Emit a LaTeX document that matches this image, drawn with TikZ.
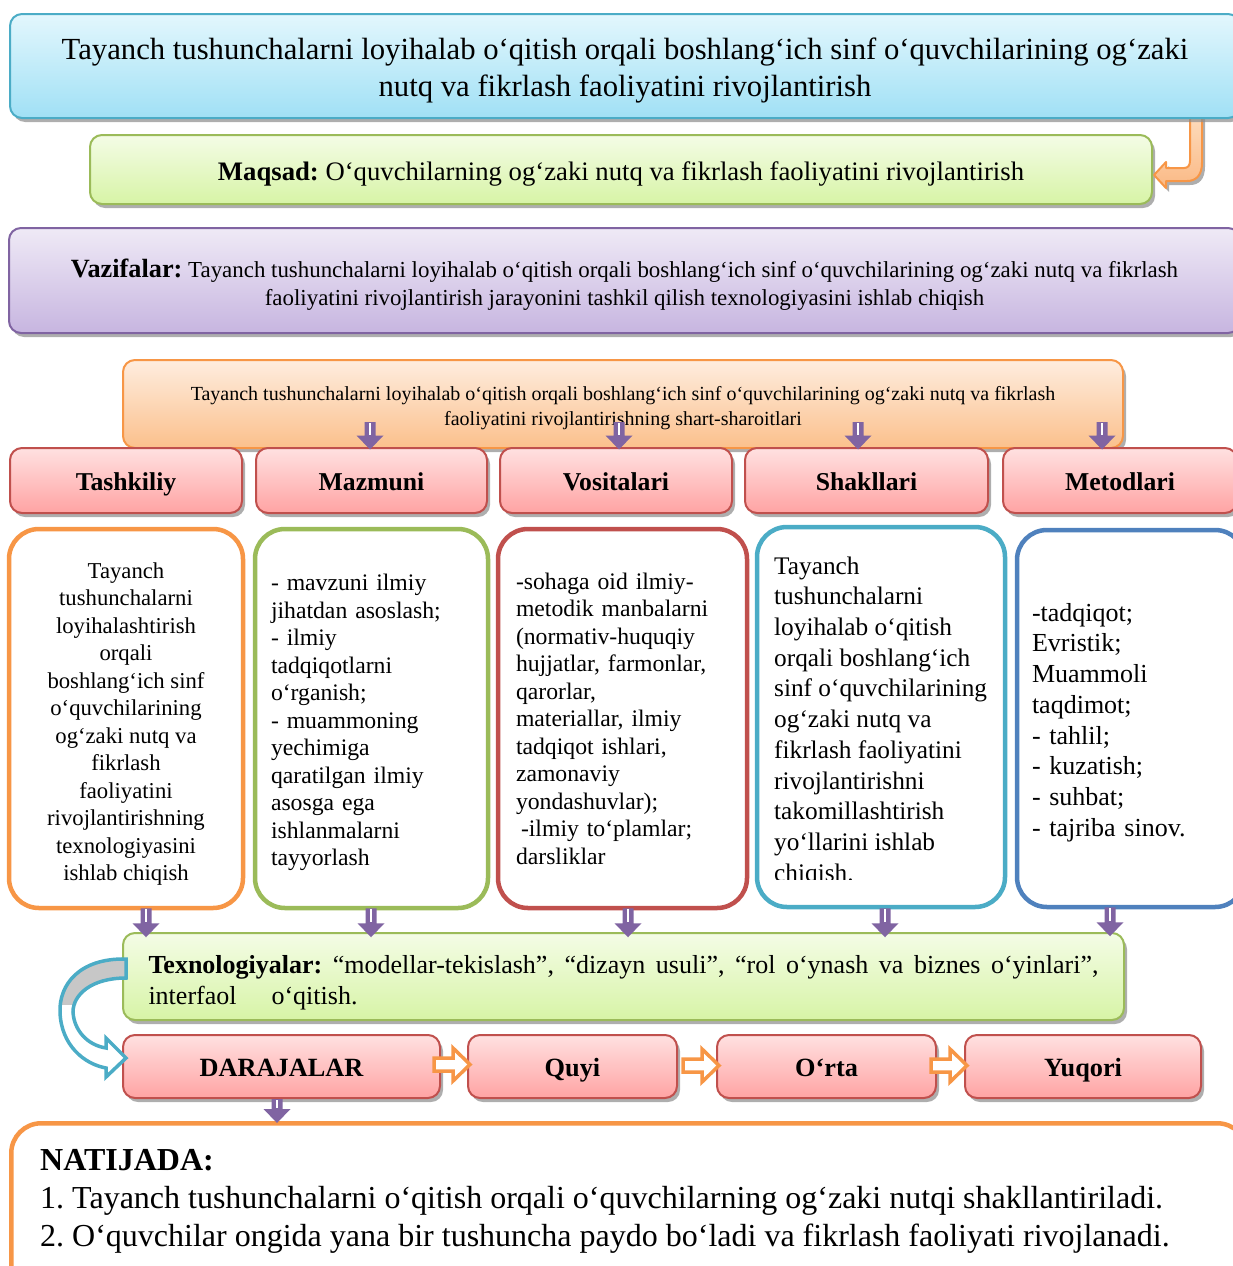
\documentclass[tikz,border=0pt]{standalone}
\usepackage{fontspec}
\setmainfont{Liberation Serif}
\usetikzlibrary{shadows,calc}
\frenchspacing
\newcommand\fsz[2]{\fontsize{#1}{#2}\selectfont}
\newcommand\tstrut[1]{\rule{0pt}{#1pt}}
\newcommand\jsp{\hskip 0.25em plus 1fil\relax}
\definecolor{bTeal}{HTML}{4BACC6}
\definecolor{bGreen}{HTML}{9BBB59}
\definecolor{bPurple}{HTML}{8064A2}
\definecolor{bOrange}{HTML}{F79646}
\definecolor{bRed}{HTML}{C0504D}
\definecolor{bBlue}{HTML}{4F81BD}
\definecolor{tealTop}{HTML}{E3F7FD}
\definecolor{tealBot}{HTML}{A0E0F5}
\definecolor{greenTop}{HTML}{F4FCE6}
\definecolor{greenBot}{HTML}{D7F4A6}
\definecolor{purpTop}{HTML}{EFEAF6}
\definecolor{purpBot}{HTML}{C7B5E0}
\definecolor{orTop}{HTML}{FEEDDF}
\definecolor{orBot}{HTML}{FBC08C}
\definecolor{redTop}{HTML}{FFE1E1}
\definecolor{redBot}{HTML}{FFA3A3}
\definecolor{arrTop}{HTML}{FDDDBF}
\definecolor{arrBot}{HTML}{FAB985}
\begin{document}
\begin{tikzpicture}[x=1pt,y=-1pt,
  shadowed/.style={drop shadow={shadow xshift=3pt,shadow yshift=-4pt,fill=black!45,opacity=.7}},
  fbox/.style={shadowed,rounded corners=12pt,line width=2pt,inner sep=0pt,align=center},
  tealbox/.style={fbox,draw=bTeal,top color=tealTop,bottom color=tealBot},
  greenbox/.style={fbox,draw=bGreen,top color=greenTop,bottom color=greenBot},
  purpbox/.style={fbox,draw=bPurple,top color=purpTop,bottom color=purpBot},
  orbox/.style={fbox,draw=bOrange,top color=orTop,bottom color=orBot},
  redbox/.style={fbox,draw=bRed,top color=redTop,bottom color=redBot,font=\bfseries\fsz{25.7}{30},
    text height=25pt,text depth=6pt},
  levelbox/.style={redbox,font=\bfseries\fsz{26.3}{30},minimum height=63pt,text height=26pt,text depth=6pt},
  cbox/.style={rounded corners=30pt,line width=4.5pt,fill=white,inner sep=0pt},
  hollow/.style={draw=bOrange,line width=3.5pt,fill=white,line join=miter},
  bent/.style={shadowed,draw=bOrange,line width=2pt,top color=arrTop,bottom color=arrBot,line join=round},
  band/.style={draw=bTeal,line width=3.5pt,line join=miter},
  pics/parr/.style={code={
    \fill[bPurple] (-5.5,0) -- (-5.5,#1-14) -- (-13.5,#1-14) -- (0,#1) -- (13.5,#1-14) -- (5.5,#1-14) -- (5.5,0) -- cycle;
    \draw[white,line width=1.3pt] (0,1) -- (0,#1-15);
  }}
]
\useasboundingbox (0,0) rectangle (1233,1266);

% --- Maqsad box ---
\node[greenbox,minimum width=1062pt,minimum height=69pt,font=\fsz{26.7}{32}] (maqsad) at (621,169.5)
  {\tstrut{28}\textbf{Maqsad:} O‘quvchilarning og‘zaki nutq va fikrlash faoliyatini rivojlantirish};

% --- bent orange arrow from title to Maqsad ---
\begin{scope}[shift={(maqsad.east)}]
\path[bent] (1,5.5) -- (13,-7.5) -- (13,-1.5) -- (31,-1.5)
  .. controls (35,-1.5) and (37,-4) .. (37,-9) -- (37,-57.5) -- (49,-57.5) -- (49,-7)
  .. controls (49,6) and (43,11.5) .. (34,11.5) -- (13,11.5) -- (13,18.5) -- cycle;
\end{scope}

% --- Title ---
\node[tealbox,minimum width=1230pt,minimum height=104pt,font=\fsz{30.7}{37}] (title) at (625,66)
  {\tstrut{30}Tayanch tushunchalarni loyihalab o‘qitish orqali boshlang‘ich sinf o‘quvchilarining og‘zaki\\
   nutq va fikrlash faoliyatini rivojlantirish};

% --- Vazifalar ---
\node[purpbox,minimum width=1231pt,minimum height=105pt,font=\fsz{22.9}{28}] (vazifa) at (624.5,280.5)
  {\tstrut{26}{\fsz{26.3}{28}\bfseries Vazifalar:} Tayanch tushunchalarni loyihalab o‘qitish orqali boshlang‘ich sinf o‘quvchilarining og‘zaki nutq va fikrlash\\
   faoliyatini rivojlantirish jarayonini tashkil qilish texnologiyasini ishlab chiqish};

% --- Conditions ---
\node[orbox,minimum width=1000pt,minimum height=88pt,font=\fsz{20}{25}] (cond) at (623,404)
  {\tstrut{21.7}Tayanch tushunchalarni loyihalab o‘qitish orqali boshlang‘ich sinf o‘quvchilarining og‘zaki nutq va fikrlash\\
   faoliyatini rivojlantirishning shart-sharoitlari};

% --- Headers ---
\node[redbox,minimum width=232pt,minimum height=65pt] (tash) at (126,480.5) {Tashkiliy};
\node[redbox,minimum width=231pt,minimum height=65pt] (mazm) at (371.5,480.5) {Mazmuni};
\node[redbox,minimum width=232pt,minimum height=65pt] (vosi) at (616,480.5) {Vositalari};
\node[redbox,minimum width=243pt,minimum height=65pt] (shak) at (866.5,480.5) {Shakllari};
\node[redbox,minimum width=234pt,minimum height=65pt] (meto) at (1120,480.5) {Metodlari};

\pic at ([xshift=-1.5pt,yshift=25pt]mazm.north) {parr=27.5};
\pic at ([xshift=3pt,yshift=25pt]vosi.north) {parr=27.5};
\pic at ([xshift=-8.5pt,yshift=25pt]shak.north) {parr=27.5};
\pic at ([xshift=-18pt,yshift=25pt]meto.north) {parr=27.5};

% --- Content boxes ---
\node[cbox,draw=bOrange,minimum width=234pt,minimum height=379pt,align=center,font=\fsz{22.7}{27.5}] (c1) at (126,718.5)
  {\tstrut{26.5}Tayanch\\tushunchalarni\\loyihalashtirish\\orqali\\boshlang‘ich sinf\\o‘quvchilarining\\og‘zaki nutq va\\fikrlash\\faoliyatini\\rivojlantirishning\\texnologiyasini\\ishlab chiqish};
\node[cbox,draw=bGreen,minimum width=233pt,minimum height=379pt,text width=201pt,align=left,font=\fsz{23.7}{27.5}] (c2) at (371.5,718.5)
  {\tstrut{24.2}- mavzuni ilmiy\\jihatdan~asoslash;\\- ilmiy\\tadqiqotlarni\\o‘rganish;\\- muammoning\\yechimiga\\qaratilgan~ilmiy\\asosga ega\\ishlanmalarni\\tayyorlash};
\node[cbox,draw=bRed,minimum width=249pt,minimum height=379pt,text width=213pt,align=left,font=\fsz{23.7}{27.5}] (c3) at (622.5,718.5)
  {-sohaga oid ilmiy-\\metodik~manbalarni\\(normativ-huquqiy\\hujjatlar,~farmonlar,\\qarorlar,\\materiallar,~ilmiy\\tadqiqot~ishlari,\\zamonaviy\\yondashuvlar);\\\hspace*{5pt}-ilmiy to‘plamlar;\\darsliklar};
\node[cbox,draw=bTeal,minimum width=248pt,minimum height=380pt] (c4) at (881,717) {};
\begin{scope}
\clip (762,535) rectangle (1000,879);
\node[anchor=west,align=left,inner sep=0pt,font=\fsz{25.3}{30.7}] (c4t) at (774,721.6)
  {Tayanch\\tushunchalarni\\loyihalab~o‘qitish\\orqali~boshlang‘ich\\sinf~o‘quvchilarining\\og‘zaki nutq va\\fikrlash~faoliyatini\\rivojlantirishni\\takomillashtirish\\yo‘llarini~ishlab\\chiqish.};
\end{scope}
\node[cbox,draw=bBlue,minimum width=228pt,minimum height=377pt,text width=198pt,align=left,font=\fsz{26}{30.7}] (c5) at (1131,718.5)
  {\tstrut{26}-tadqiqot;\\Evristik;\\Muammoli\\taqdimot;\\- tahlil;\\- kuzatish;\\- suhbat;\\- tajriba sinov.};

% --- Texnologiyalar ---
\node[greenbox,minimum width=1001pt,minimum height=87pt,text width=950pt,align=left,font=\fsz{26}{31}] (texn) at (623.5,976.5)
  {\tstrut{30}\hbox to 950pt{\textbf{Texnologiyalar:}\jsp“modellar-tekislash”,\jsp“dizayn\jsp usuli”,\jsp“rol\jsp o‘ynash\jsp va\jsp biznes\jsp o‘yinlari”,}\\
   interfaol\hspace{35pt}o‘qitish.};

\pic at ([xshift=20pt,yshift=2pt]c1.south) {parr=29};
\pic at ([xshift=-0.5pt,yshift=2pt]c2.south) {parr=29};
\pic at ([xshift=5.5pt,yshift=2pt]c3.south) {parr=29};
\pic at ([xshift=4pt,yshift=1pt]c4.south) {parr=29};
\pic at ([xshift=-21pt,yshift=2pt]c5.south) {parr=29};

% --- Levels ---
\node[levelbox,minimum width=317pt] (dar) at (281.5,1066.5) {DARAJALAR};
\node[levelbox,minimum width=209pt] (quyi) at (572.5,1066.5) {Quyi};
\node[levelbox,minimum width=219pt] (orta) at (826.5,1066.5) {O‘rta};
\node[levelbox,minimum width=236pt] (yuq) at (1083,1066.5) {Yuqori};

\begin{scope}[shift={([xshift=3pt,yshift=2pt]quyi.west)}]
\draw[hollow] (-36,-6.5) -- (-17,-6.5) -- (-17,-16.5) -- (0,0) -- (-17,16.5) -- (-17,6.5) -- (-36,6.5) -- cycle;
\end{scope}
\begin{scope}[shift={([xshift=3pt,yshift=1pt]orta.west)}]
\draw[hollow] (-36,-6.5) -- (-17,-6.5) -- (-17,-16.5) -- (0,0) -- (-17,16.5) -- (-17,6.5) -- (-36,6.5) -- cycle;
\end{scope}
\begin{scope}[shift={([xshift=3pt,yshift=1pt]yuq.west)}]
\draw[hollow] (-36,-6.5) -- (-17,-6.5) -- (-17,-16.5) -- (0,0) -- (-17,16.5) -- (-17,6.5) -- (-36,6.5) -- cycle;
\end{scope}

% --- curved blue arrow from Texnologiyalar to DARAJALAR ---
\def\bluebandpath{(4,-107.5) .. controls (-43,-108.5) and (-63,-81.5) .. (-62,-54.5)
  .. controls (-61,-21.5) and (-38,-2.5) .. (-16,1.5) -- (-16,10.5) -- (4,-8.5) -- (-16,-28.5) -- (-16,-18.5)
  .. controls (-35,-21.5) and (-48,-36.5) .. (-49,-54.5)
  .. controls (-49,-71.5) and (-31,-88.5) .. (4,-88.5) -- cycle}
\begin{scope}[shift={(dar.west)}]
\fill[white] \bluebandpath;
\begin{scope}
\clip (-130,-200) rectangle (10,-62);
\fill[black!22] \bluebandpath;
\end{scope}
\draw[band] \bluebandpath;
\end{scope}

% --- Natijada ---
\node[cbox,draw=bOrange,minimum width=1236pt,minimum height=180pt,anchor=north west] (nat) at (9,1121) {};
\pic at ([xshift=-4.5pt]dar.south) {parr=24};
\node[anchor=west,align=left,inner sep=0pt,font=\fsz{32}{38}] (natt) at (40,1201.5)
  {\textbf{NATIJADA:}\\
   1. Tayanch tushunchalarni o‘qitish orqali o‘quvchilarning og‘zaki nutqi shakllantiriladi.\\
   2. O‘quvchilar ongida yana bir tushuncha paydo bo‘ladi va fikrlash faoliyati rivojlanadi.};
\end{tikzpicture}
\end{document}
